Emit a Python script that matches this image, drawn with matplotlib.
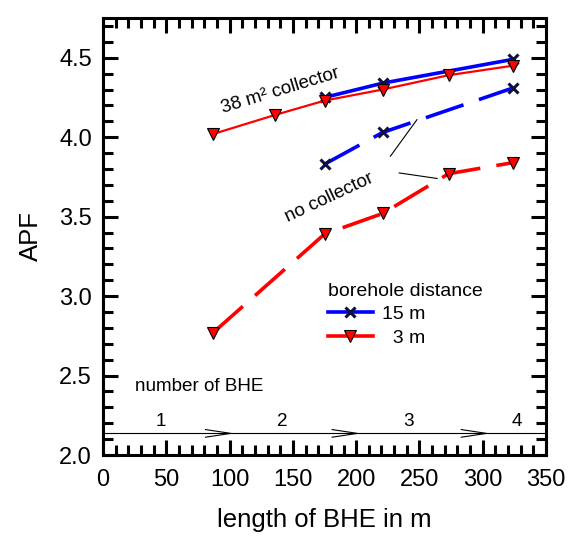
import matplotlib.pyplot as plt
from matplotlib.ticker import MultipleLocator

plt.rcParams['font.family'] = ['Liberation Sans', 'DejaVu Sans']

# 15 m borehole distance
x_15_col = [175, 221, 324]
y_15_col = [4.25, 4.34, 4.49]
x_15_no = [175, 221, 324]
y_15_no = [3.83, 4.03, 4.31]

# 3 m borehole distance
x_3_col = [87, 136, 175, 221, 273, 324]
y_3_col = [4.02, 4.14, 4.23, 4.30, 4.39, 4.45]
x_3_no = [87, 175, 221, 273, 324]
y_3_no = [2.77, 3.39, 3.52, 3.77, 3.84]

# number of BHE along the length axis
bhe_numbers = ['1', '2', '3', '4']
bhe_label_x = [46, 142, 241, 327]
bhe_arrow_x = [101, 201, 303]

fig = plt.figure(figsize=(5.7, 5.37), dpi=100)
ax = fig.add_axes([0.1807, 0.1527, 0.7773, 0.8138])

dash = (0, (11, 4.5))
xkw = dict(marker='x', ms=7, mew=2.2, mec='#101040')
vkw = dict(marker='v', ms=9, mfc='red', mec='black', mew=0.8)
ax.plot(x_15_col, y_15_col, color='blue', lw=2.6, zorder=3, **xkw)
ax.plot(x_15_no, y_15_no, color='blue', lw=2.6, ls=dash, zorder=3, **xkw)
ax.plot(x_3_col, y_3_col, color='red', lw=1.6, zorder=4, **vkw)
ax.plot(x_3_no, y_3_no, color='red', lw=2.6, ls=dash, zorder=4, **vkw)

# legend
l1, = ax.plot([], [], color='blue', lw=2.6, **xkw)
l2, = ax.plot([], [], color='red', lw=2.6, **vkw)
ax.legend([l1, l2], ['15 m', '  3 m'], title='borehole distance', loc='upper left',
          bbox_to_anchor=(0.49, 0.412), frameon=False, fontsize=14, title_fontsize=14,
          handlelength=2.3, handletextpad=0.5, labelspacing=0.3, alignment='left',
          borderaxespad=0)

ax.text(140, 4.29, '38 m² collector', rotation=17, fontsize=13.5, ha='center', va='center')
ax.text(179, 3.62, 'no collector', rotation=25, fontsize=13.5, ha='center', va='center')
ax.plot([227, 248], [3.88, 4.11], color='black', lw=0.8)
ax.plot([234, 264], [3.775, 3.74], color='black', lw=0.8)

ax.text(25, 2.43, 'number of BHE', fontsize=13.6, ha='left', va='center')
ax.plot([0, 350], [2.136, 2.136], color='black', lw=0.8)
for xa in bhe_arrow_x:
    ax.plot([xa - 20, xa, xa - 20], [2.16, 2.136, 2.112], color='black', lw=0.8)
for lab, xl in zip(bhe_numbers, bhe_label_x):
    ax.text(xl, 2.21, lab, fontsize=13.6, ha='center', va='center')

ax.set_xlim(0, 350)
ax.set_ylim(2.0, 4.75)
ax.xaxis.set_major_locator(MultipleLocator(50))
ax.xaxis.set_minor_locator(MultipleLocator(10))
ax.yaxis.set_major_locator(MultipleLocator(0.5))
ax.yaxis.set_minor_locator(MultipleLocator(0.1))
ax.yaxis.set_major_formatter(plt.FormatStrFormatter('%.1f'))
ax.tick_params(which='both', direction='in', top=True, right=True, width=2.2, labelsize=17)
ax.tick_params(which='major', length=11)
ax.tick_params(which='minor', length=7)
ax.tick_params(axis='y', which='major', pad=8)
ax.tick_params(axis='x', which='major', pad=10)
for s in ax.spines.values():
    s.set_linewidth(2.2)

ax.set_xlabel('length of BHE in m', fontsize=18.5, labelpad=12)
ax.set_ylabel('APF', fontsize=18.5, labelpad=12)

fig.savefig('out.png', dpi=100)
